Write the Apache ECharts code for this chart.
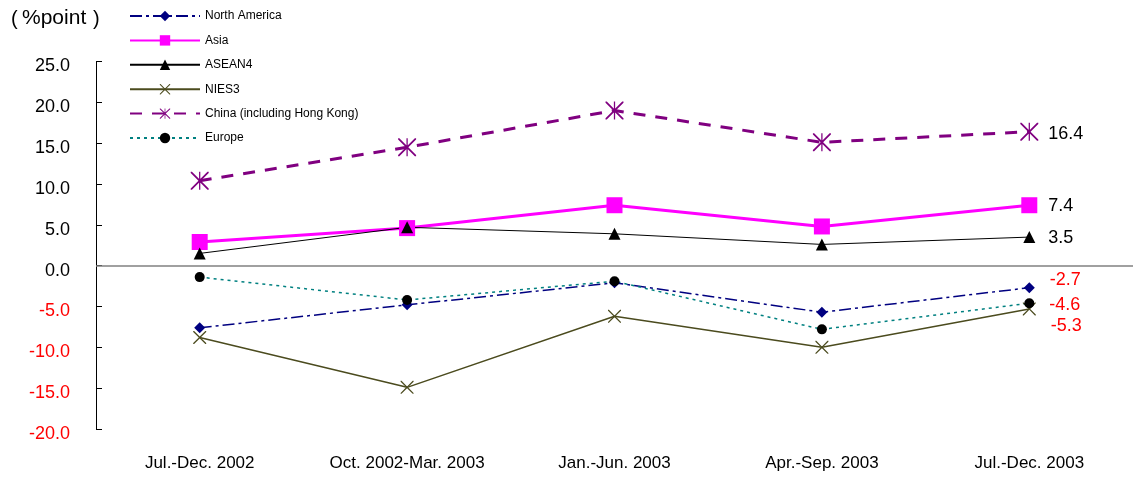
<!DOCTYPE html>
<html><head><meta charset="utf-8">
<script src="https://cdn.jsdelivr.net/npm/echarts@6/dist/echarts.min.js"></script>
<style>html,body{margin:0;padding:0;background:#fff}#c{width:1133px;height:480px}</style>
</head><body><div id="c"></div>
<script>
var categories = ['Jul.-Dec. 2002', 'Oct. 2002-Mar. 2003', 'Jan.-Jun. 2003', 'Apr.-Sep. 2003', 'Jul.-Dec. 2003'];
var northAmerica = [-7.6, -4.8, -2.1, -5.7, -2.7];
var asia = [2.9, 4.6, 7.4, 4.8, 7.4];
var asean4 = [1.5, 4.7, 3.9, 2.6, 3.5];
var nies3 = [-8.8, -14.9, -6.2, -10.0, -5.3];
var china = [10.4, 14.5, 19.0, 15.1, 16.4];
var europe = [-1.4, -4.2, -1.9, -7.8, -4.6];
var yTicks = {min: -20, max: 25, interval: 5};

var FONT = '"Liberation Sans", Arial, sans-serif';
var xPath = 'path://M0,0 L1.4,0 L10,8.6 L18.6,0 L20,0 L20,1.4 L11.4,10 L20,18.6 L20,20 L18.6,20 L10,11.4 L1.4,20 L0,20 L0,18.6 L8.6,10 L0,1.4 Z';
var astPath = 'path://M0,0 L1.4,0 L10,8.6 L18.6,0 L20,0 L20,1.4 L11.4,10 L20,18.6 L20,20 L18.6,20 L10,11.4 L1.4,20 L0,20 L0,18.6 L8.6,10 L0,1.4 Z M9.3,0 L10.7,0 L10.7,20 L9.3,20 Z';

function endLabel(color, pos, offset) {
  return {
    show: true, position: pos, offset: offset || [0, 0],
    color: color, fontSize: 18, fontFamily: FONT,
    formatter: function (p) { return p.dataIndex === 4 ? p.value.toFixed(1) : ''; }
  };
}

var chart = echarts.init(document.getElementById('c'));
chart.setOption({
  animation: false,
  textStyle: {fontFamily: FONT},
  graphic: [
    {type: 'text', left: 11, top: 9, style: {text: '(', fontSize: 20, fontFamily: FONT, fill: '#000'}},
    {type: 'text', left: 22, top: 8, style: {text: '%point', fontSize: 21, fontFamily: FONT, fill: '#000'}},
    {type: 'text', left: 93, top: 9, style: {text: ')', fontSize: 20, fontFamily: FONT, fill: '#000'}}
  ],
  legend: {
    orient: 'vertical', left: 124, top: 5, itemWidth: 70, itemHeight: 13, itemGap: 12.4,
    textStyle: {fontSize: 12, color: '#000', fontFamily: FONT},
    data: ['North America', 'Asia', 'ASEAN4', 'NIES3', 'China (including Hong Kong)', 'Europe']
  },
  grid: {left: 96, right: 0, top: 61.5, bottom: 51},
  xAxis: {
    type: 'category', data: categories, boundaryGap: true,
    axisLine: {show: false}, axisTick: {show: false},
    axisLabel: {fontSize: 17, color: '#000', margin: 26, fontFamily: FONT}
  },
  yAxis: {
    type: 'value', min: yTicks.min, max: yTicks.max, interval: yTicks.interval,
    axisLine: {show: true, lineStyle: {color: '#000', width: 1}},
    axisTick: {show: true, inside: true, length: 6, lineStyle: {color: '#000'}},
    splitLine: {show: false},
    axisLabel: {
      fontSize: 18, margin: 26, fontFamily: FONT, verticalAlign: 'top', lineHeight: 10,
      formatter: function (v) { return v.toFixed(1); },
      color: function (v) { return Number(v) < 0 ? '#FF0000' : '#000'; }
    }
  },
  series: [
    {name: 'North America', type: 'line', data: northAmerica, symbol: 'diamond', symbolSize: 11,
      itemStyle: {color: '#000080'}, lineStyle: {color: '#000080', width: 1.5, type: [12, 4, 3, 4]},
      label: endLabel('#FF0000', 'right', [10, -8]),
      markLine: {silent: true, symbol: 'none', label: {show: false},
        lineStyle: {color: '#808080', width: 1.5, type: 'solid'}, data: [{yAxis: 0}]}},
    {name: 'Asia', type: 'line', data: asia, symbol: 'rect', symbolSize: 16,
      itemStyle: {color: '#FF00FF'}, lineStyle: {color: '#FF00FF', width: 3},
      label: endLabel('#000', 'right', [6, 1])},
    {name: 'ASEAN4', type: 'line', data: asean4, symbol: 'triangle', symbolSize: 12,
      itemStyle: {color: '#000'}, lineStyle: {color: '#000', width: 1},
      label: endLabel('#000', 'right', [8, 1])},
    {name: 'NIES3', type: 'line', data: nies3, symbol: xPath, symbolSize: 13,
      itemStyle: {color: '#4B4B1E'}, lineStyle: {color: '#4B4B1E', width: 1.5},
      label: endLabel('#FF0000', 'right', [10, 17])},
    {name: 'China (including Hong Kong)', type: 'line', data: china, symbol: astPath, symbolSize: 18,
      itemStyle: {color: '#800080'}, lineStyle: {color: '#800080', width: 3, type: [12, 10]},
      label: endLabel('#000', 'right', [5, 2])},
    {name: 'Europe', type: 'line', data: europe, symbol: 'circle', symbolSize: 10,
      itemStyle: {color: '#000'}, lineStyle: {color: '#008080', width: 1.5, type: [3, 4]},
      label: endLabel('#FF0000', 'right', [10, 2])}
  ]
});
</script></body></html>
